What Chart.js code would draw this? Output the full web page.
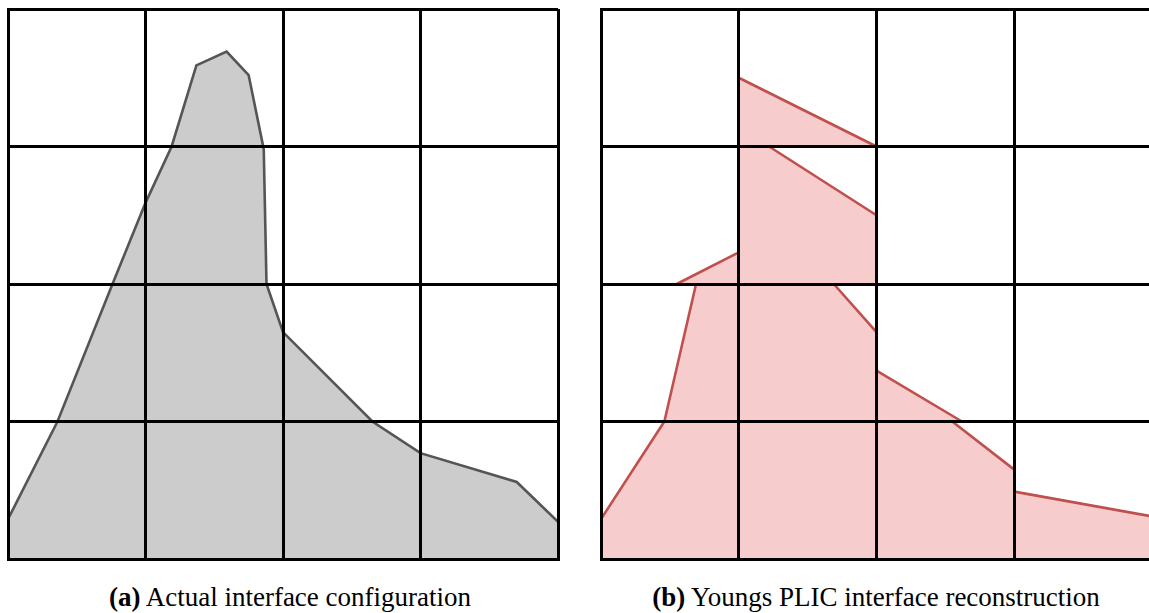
<!DOCTYPE html>
<html>
<head>
<meta charset="utf-8">
<script src="https://cdn.jsdelivr.net/npm/chart.js@4"></script>
<style>
  html, body { margin: 0; padding: 0; background: #fff; overflow: hidden; width: 1149px; height: 613px; }
  canvas { position: absolute; top: 0; }
  #left { left: 0; }
  #right { left: 593px; }
  .cap { position: absolute; top: 582px; font-family: "Liberation Serif", "DejaVu Serif", serif; font-size: 27px; line-height: 31px; color: #000; white-space: nowrap; text-align: center; }
  #capA { left: 40px; width: 500px; }
  #capB { left: 626px; width: 500px; }
</style>
</head>
<body>
<canvas id="left" width="570" height="575"></canvas>
<canvas id="right" width="570" height="575"></canvas>
<div class="cap" id="capA"><b>(a)</b> Actual interface configuration</div>
<div class="cap" id="capB"><b>(b)</b> Youngs PLIC interface reconstruction</div>
<script>
// grid is 4 x 4 cells, coordinates in cell units
var gridTicks = [0, 1, 2, 3, 4];

// (a) actual interface
var actualX = [0, 0.36, 0.76, 1.0, 1.19, 1.37, 1.59, 1.75, 1.86, 1.88, 2.0, 2.65, 3.0, 3.7, 4.0];
var actualY = [0.29, 1.0, 2.0, 2.59, 3.0, 3.59, 3.69, 3.52, 2.98, 2.0, 1.65, 1.0, 0.77, 0.56, 0.27];

// (b) PLIC: filled part of each cut cell (polygon x / y lists)
var plicPolyX = [
  [1, 2, 1],
  [1, 1.22, 2, 2, 1],
  [0.55, 1, 1],
  [0.69, 1, 1, 0.46],
  [1, 1.69, 2, 2, 1],
  [2, 2.62, 2],
  [0, 0.46, 1, 1, 0],
  [1, 2, 2, 1],
  [2, 2.55, 3, 3, 2],
  [3, 4, 4, 3]
];
var plicPolyY = [
  [3.5, 3, 3],
  [3, 3, 2.5, 2, 2],
  [2, 2.23, 2],
  [2, 2, 1, 1],
  [2, 2, 1.65, 1, 1],
  [1.37, 1, 1],
  [0.29, 1, 1, 0, 0],
  [1, 1, 0, 0],
  [1, 1, 0.65, 0, 0],
  [0.49, 0.31, 0, 0]
];
// interface segments inside the cells: x1, y1, x2, y2
var plicSegs = [
  [1, 3.5, 2, 3],
  [1.22, 3, 2, 2.5],
  [0.55, 2, 1, 2.23],
  [0.69, 2, 0.46, 1],
  [1.69, 2, 2, 1.65],
  [2, 1.37, 2.62, 1],
  [0, 0.29, 0.46, 1],
  [2.55, 1, 3, 0.65],
  [3, 0.49, 4, 0.31]
];

function zip(xs, ys) {
  return xs.map(function (x, i) { return { x: x, y: ys[i] }; });
}

function gridScale(axis) {
  return {
    type: 'linear',
    min: gridTicks[0],
    max: gridTicks[gridTicks.length - 1],
    afterBuildTicks: function (s) { s.ticks = gridTicks.map(function (v) { return { value: v }; }); },
    afterFit: function (s) { if (axis === 'x') s.height = 0; else s.width = 0; },
    ticks: { display: false },
    grid: { color: '#000', lineWidth: 3, drawTicks: false, z: 1 },
    border: { display: true, color: '#000', width: 3, z: 2 }
  };
}

function baseOptions(padRight) {
  return {
    responsive: false,
    animation: false,
    devicePixelRatio: 1,
    layout: { padding: { left: 8, top: 9, right: padRight, bottom: 16 } },
    plugins: { legend: { display: false }, tooltip: { enabled: false } },
    elements: { point: { radius: 0 }, line: { tension: 0 } },
    scales: { x: gridScale('x'), y: gridScale('y') }
  };
}

new Chart(document.getElementById('left'), {
  type: 'scatter',
  data: {
    datasets: [{
      data: zip(actualX, actualY),
      showLine: true,
      fill: 'origin',
      backgroundColor: '#cccccc',
      borderColor: '#555555',
      borderWidth: 2.6
    }]
  },
  options: baseOptions(12)
});

// first dataset is drawn last, so the interface line goes first
var segPts = [];
plicSegs.forEach(function (s) {
  segPts.push({ x: s[0], y: s[1] }, { x: s[2], y: s[3] }, { x: s[2], y: null });
});
var rightSets = [{
  data: segPts,
  showLine: true,
  spanGaps: false,
  fill: false,
  borderColor: '#c0504d',
  borderWidth: 2.6
}];
plicPolyX.forEach(function (xs, i) {
  var pts = zip(xs, plicPolyY[i]);
  pts.push(pts[0]);
  rightSets.push({
    data: pts,
    showLine: true,
    fill: 'shape',
    backgroundColor: '#f6cccc',
    borderWidth: 0,
    borderColor: 'rgba(0,0,0,0)'
  });
});

new Chart(document.getElementById('right'), {
  type: 'scatter',
  data: { datasets: rightSets },
  options: baseOptions(11)
});
</script>
</body>
</html>
